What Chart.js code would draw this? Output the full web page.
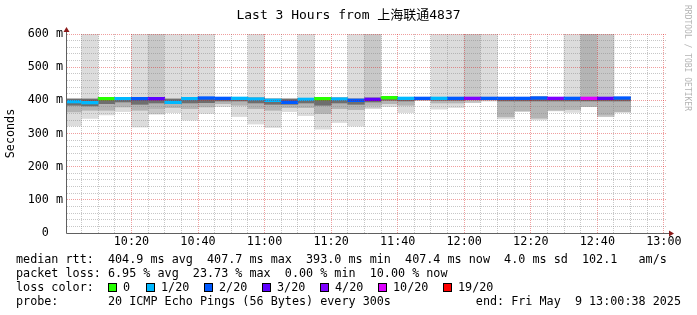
<!DOCTYPE html>
<html><head><meta charset="utf-8">
<script src="https://cdn.jsdelivr.net/npm/chart.js@4/dist/chart.umd.min.js"></script>
<style>
html,body{margin:0;padding:0;background:#fff;}
#wrap{position:relative;width:697px;height:315px;overflow:hidden;font-family:'DejaVu Sans Mono',monospace;color:#000;}
#c{position:absolute;left:0;top:0;}
.t{position:absolute;white-space:pre;font-size:11.75px;line-height:14px;}
.title{position:absolute;left:0;width:697px;top:7px;text-align:center;font-size:13px;line-height:16px;white-space:pre;font-family:'DejaVu Sans Mono','Noto Sans CJK SC',monospace;}
.sw{position:absolute;width:7px;height:7px;border:1px solid #000;}
.rrd{position:absolute;left:683px;top:5px;font-size:8px;line-height:9px;color:#b4b4b4;writing-mode:vertical-rl;white-space:pre;}
</style></head>
<body>
<div id="wrap">
<canvas id="c" width="697" height="315"></canvas>
<div class="title">Last 3 Hours from 上海联通4837</div>
<div class="rrd">RRDTOOL / TOBI OETIKER</div>
<div id="legend"></div>
</div>
<script>
// ---- data ----
const slots = ['10:00','10:05','10:10','10:15','10:20','10:25','10:30','10:35','10:40','10:45','10:50','10:55',
               '11:00','11:05','11:10','11:15','11:20','11:25','11:30','11:35','11:40','11:45','11:50','11:55',
               '12:00','12:05','12:10','12:15','12:20','12:25','12:30','12:35','12:40','12:45'];
const medianRtt = [396,393,405,405,405,405,394,405,407,406,406,404,400,394,403,405,404,400,403,408,406,406,406,406,406,406,406,406,407,406,406,406,406,407];
const lossCount = [1,1,0,1,2,3,1,1,2,2,1,1,1,2,1,0,1,2,3,0,1,2,1,2,4,2,2,2,2,4,2,10,3,2];
const smokeMax  = [404,404,407,407,407,407,404,407,409,408,408,407,404,404,406,407,407,404,407,410,408,408,408,408,408,408,408,408,410,408,408,408,408,409];
const smokeDark = [385,383,390,395,388,392,390,392,393,398,398,392,388,388,392,385,392,388,395,400,398,402,400,400,402,403,398,398,398,398,398,398,398,398];
const smokeMid  = [365,370,370,380,370,375,378,375,380,390,385,375,370,378,378,360,375,372,385,390,385,400,392,392,398,400,350,368,346,370,372,383,356,366];
const smokeMin  = [323,346,356,366,320,359,363,341,361,381,351,329,318,366,354,313,333,323,376,381,363,399,374,379,393,398,344,366,341,368,364,381,351,363];
const lossBarPct = [0,5,0,0,5,15,5,5,5,0,0,5,0,0,5,0,0,5,15,0,0,0,5,5,15,5,0,0,0,0,5,50,15,0];
const lossLevels = [0,1,2,3,4,10,19];
const lossLabels = ['0','1/20','2/20','3/20','4/20','10/20','19/20'];
const lossColors = ['#26ff00','#00b8ff','#0059ff','#5e00ff','#7e00ff','#dd00ff','#ff0000'];
const xTickLabels = ['10:20','10:40','11:00','11:20','11:40','12:00','12:20','12:40','13:00'];
const yTickLabels = ['0  ','100 m','200 m','300 m','400 m','500 m','600 m'];
const yTickValues = [0,100,200,300,400,500,600];
const startTime = '10:00:38', endTime = '13:00:38';

// ---- helpers ----
const toMin = s => { const p = s.split(':').map(Number); return (p[0]-10)*60 + p[1] + (p[2]||0)/60; };
const step = 5;
const centers = slots.map(s => toMin(s) + step/2);
const colorFor = n => { let c = lossColors[0]; lossLevels.forEach((l,i)=>{ if (n >= l) c = lossColors[i]; }); return c; };
const barShade = p => p <= 0 ? null : (p <= 10 ? '#dcdcdc' : (p <= 20 ? '#c8c8c8' : '#b4b4b4'));
const LW = 4; // half thickness of median line in value units

function ds(label, order, yArr, colors) {
  return {
    type: 'bar', label, order,
    data: centers.map((x,i)=>({x, y: yArr[i]})),
    backgroundColor: colors, borderWidth: 0,
    barPercentage: 1, categoryPercentage: 1, grouped: false
  };
}

const datasets = [
  ds('median', 0, medianRtt.map(m=>[m-LW, m+LW]), lossCount.map(colorFor)),
  ds('smoke dark', 1, smokeDark.map((d,i)=>[d, smokeMax[i]]), '#6e6e6e'),
  ds('smoke mid', 2, smokeMid.map((d,i)=>[d, smokeMax[i]]), '#b4b4b4'),
  ds('loss', 3, lossBarPct.map((p,i)=> p>0 ? [smokeMin[i], 640] : null), lossBarPct.map(p=>barShade(p) || 'rgba(0,0,0,0)')),
  ds('smoke', 4, smokeMin.map((d,i)=>[d, smokeMax[i]]), '#dcdcdc')
];

const xTickMinutes = xTickLabels.map(toMin);
const minorX = []; for (let m = step; m <= toMin(endTime); m += step) minorX.push(m);
const minorY = []; for (let v = 0; v <= 600; v += 20) minorY.push(v);

const majorGrid = 'rgba(215,0,0,0.38)';
const minorGrid = 'rgba(130,130,130,0.45)';
const FONT = {family: "'DejaVu Sans Mono', monospace", size: 11.75};

const dotGrid = {
  id: 'dotGrid',
  afterDatasetsDraw(chart) {
    const {ctx, chartArea: a, scales: {x, y}} = chart;
    const L = Math.round(a.left), R = Math.round(a.right), T = Math.round(a.top), B = Math.round(a.bottom);
    ctx.save();
    minorX.forEach(v => {
      const px = Math.floor(x.getPixelForValue(v));
      ctx.fillStyle = xTickMinutes.includes(v) ? majorGrid : minorGrid;
      for (let py = T; py < B; py += 2) ctx.fillRect(px, py, 1, 1);
    });
    minorY.forEach(v => {
      if (v === 0) return;
      const py = Math.floor(y.getPixelForValue(v));
      ctx.fillStyle = yTickValues.includes(v) ? majorGrid : minorGrid;
      for (let px = L; px < R; px += 2) ctx.fillRect(px, py, 1, 1);
    });
    ctx.restore();
  }
};

const axisDeco = {
  id: 'axisDeco',
  afterDraw(chart) {
    const {ctx, chartArea: a} = chart;
    const L = Math.round(a.left) - 0.5, B = Math.round(a.bottom) + 0.5;
    ctx.save();
    ctx.strokeStyle = '#606060'; ctx.lineWidth = 1;
    ctx.beginPath();
    ctx.moveTo(L, B); ctx.lineTo(a.right + 3, B);
    ctx.moveTo(L, B); ctx.lineTo(L, a.top - 3);
    ctx.stroke();
    ctx.fillStyle = '#8b1a1a';
    ctx.beginPath();
    ctx.moveTo(L, a.top - 7); ctx.lineTo(L - 3, a.top - 2); ctx.lineTo(L + 3, a.top - 2); ctx.closePath(); ctx.fill();
    ctx.beginPath();
    ctx.moveTo(a.right + 8, B); ctx.lineTo(a.right + 3, B - 3); ctx.lineTo(a.right + 3, B + 3); ctx.closePath(); ctx.fill();
    ctx.restore();
  }
};

new Chart(document.getElementById('c'), {
  data: { datasets },
  options: {
    responsive: false, animation: false, devicePixelRatio: 1,
    layout: { padding: { top: 34, right: 31, bottom: 0, left: 0 } },
    plugins: { legend: { display: false }, tooltip: { enabled: false } },
    scales: {
      x: {
        type: 'linear', offset: false,
        min: toMin(startTime), max: toMin(endTime),
        afterBuildTicks: s => { s.ticks = minorX.map(v=>({value: v})); },
        afterFit: s => { s.height = 82; },
        ticks: {
          autoSkip: false, maxRotation: 0, padding: 2, color: '#000', font: FONT,
          callback: v => { const i = xTickMinutes.findIndex(m => Math.abs(m - v) < 0.01); return i >= 0 ? xTickLabels[i] : ''; }
        },
        grid: { display: false, drawTicks: false },
        border: { display: false }
      },
      y: {
        type: 'linear', min: 0, max: 600,
        afterBuildTicks: s => { s.ticks = minorY.map(v=>({value: v})); },
        afterFit: s => { s.width = 67; },
        title: { display: true, text: 'Seconds', color: '#000', font: FONT, padding: {top: 4, bottom: 4} },
        ticks: {
          autoSkip: false, padding: 4, color: '#000', font: FONT,
          callback: v => { const i = yTickValues.indexOf(v); return i >= 0 ? yTickLabels[i] : ''; }
        },
        grid: { display: false, drawTicks: false },
        border: { display: false }
      }
    }
  },
  plugins: [dotGrid, axisDeco]
});

// ---- text legend ----
const lines = [
  {y: 252, text: 'median rtt:  404.9 ms avg  407.7 ms max  393.0 ms min  407.4 ms now  4.0 ms sd  102.1   am/s'},
  {y: 266, text: 'packet loss: 6.95 % avg  23.73 % max  0.00 % min  10.00 % now'},
  {y: 280, text: 'loss color:'},
  {y: 294, text: 'probe:       20 ICMP Echo Pings (56 Bytes) every 300s'}
];
const lg = document.getElementById('legend');
lines.forEach(L => {
  const d = document.createElement('div'); d.className = 't'; d.style.left = '16px'; d.style.top = L.y + 'px'; d.textContent = L.text; lg.appendChild(d);
});
const swX = [108,146,204,262,320,378,443];
lossLabels.forEach((lab, i) => {
  const b = document.createElement('div'); b.className = 'sw'; b.style.left = swX[i] + 'px'; b.style.top = '283px'; b.style.background = lossColors[i]; lg.appendChild(b);
  const d = document.createElement('div'); d.className = 't'; d.style.left = (swX[i] + 15) + 'px'; d.style.top = '280px'; d.textContent = lab; lg.appendChild(d);
});
const e = document.createElement('div'); e.className = 't'; e.style.right = '16px'; e.style.top = '294px'; e.textContent = 'end: Fri May  9 13:00:38 2025'; lg.appendChild(e);
</script>
</body></html>
